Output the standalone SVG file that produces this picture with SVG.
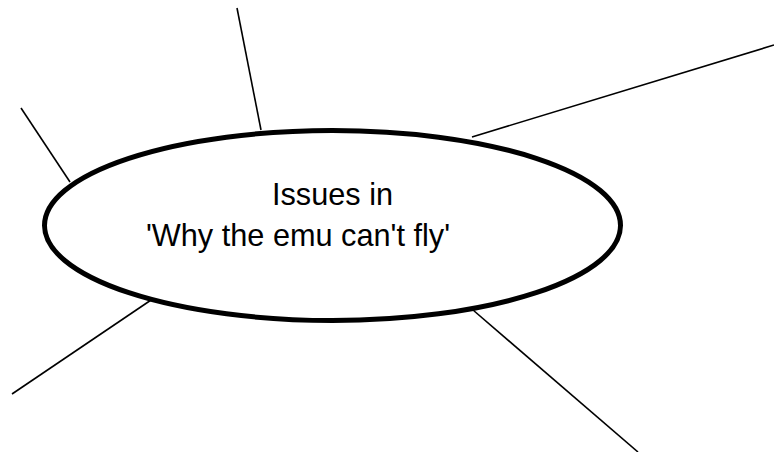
<svg xmlns="http://www.w3.org/2000/svg" width="774" height="452" viewBox="0 0 774 452">
  <style>
    .spoke { stroke: #000; stroke-width: 1.6; fill: none; stroke-linecap: butt; }
    .hub { fill: #fff; stroke: #000; stroke-width: 5; }
    .label { font-family: "Liberation Sans", Arial, sans-serif; font-size: 32px; fill: #000; }
  </style>
  <rect width="774" height="452" fill="#fff"/>
  <!-- spokes radiating from the central topic -->
  <g id="connectors">
    <line class="spoke" x1="237" y1="8" x2="261" y2="130"/>
    <line class="spoke" x1="21" y1="108" x2="70" y2="182"/>
    <line class="spoke" x1="472" y1="137" x2="774" y2="45"/>
    <line class="spoke" x1="12" y1="394" x2="157" y2="296"/>
    <line class="spoke" x1="473" y1="310" x2="638" y2="452"/>
  </g>
  <!-- central topic -->
  <g id="topic">
    <ellipse class="hub" cx="332.5" cy="225.5" rx="288" ry="95"/>
    <text class="label" x="272" y="204.5" textLength="121" lengthAdjust="spacingAndGlyphs">Issues in</text>
    <text class="label" x="146" y="246" textLength="304" lengthAdjust="spacingAndGlyphs">'Why the emu can't fly'</text>
  </g>
</svg>
